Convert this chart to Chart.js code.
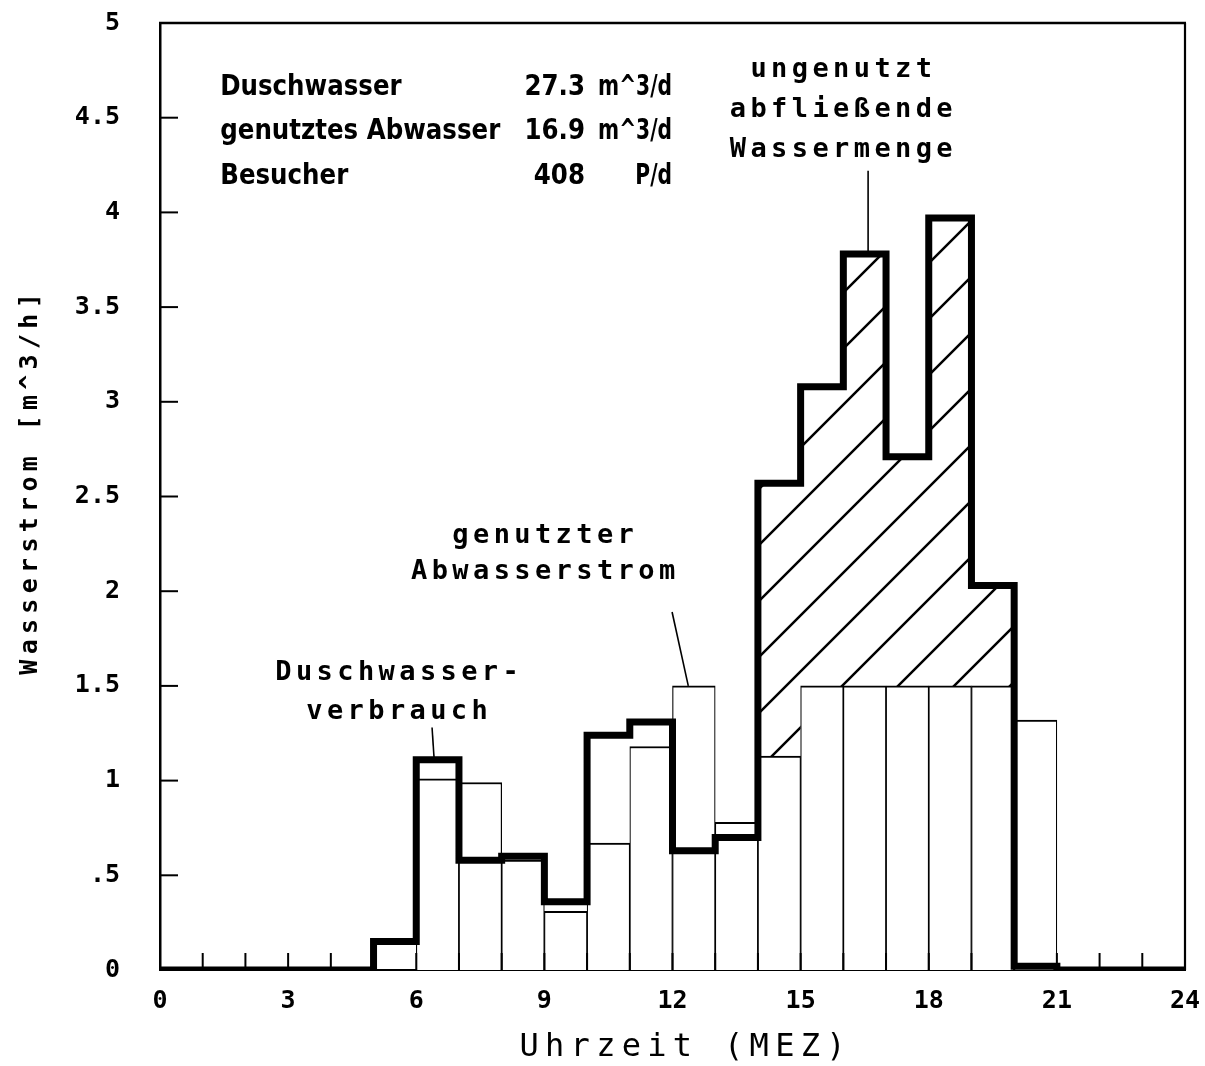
<!DOCTYPE html>
<html lang="de">
<head>
<meta charset="utf-8">
<title>Wasserstrom</title>
<script src="https://cdn.jsdelivr.net/npm/chart.js@4.4.1/dist/chart.umd.min.js"></script>
<style>
  html, body { margin: 0; padding: 0; background: #fff; }
  #wrap { width: 1205px; height: 1066px; position: relative; }
</style>
</head>
<body>
<div id="wrap"><canvas id="grafico"></canvas></div>
<script>
// Stundenwerte 0..23 Uhr in m^3/h
const stunden = [0, 1, 2, 3, 4, 5, 6, 7, 8, 9, 10, 11, 12, 13, 14, 15, 16, 17, 18, 19, 20, 21, 22, 23];
const duschwasser = [0, 0, 0, 0, 0, 0.15, 1.11, 0.58, 0.60, 0.36, 1.24, 1.31, 0.63, 0.70, 2.57, 3.08, 3.78, 2.71, 3.97, 2.03, 0.02, 0, 0, 0];
const abwasser = [0, 0, 0, 0, 0, 0, 1.01, 0.99, 0.58, 0.31, 0.67, 1.18, 1.50, 0.78, 1.13, 1.50, 1.50, 1.50, 1.50, 1.50, 1.32, 0, 0, 0];
// Stunden mit ungenutzt abfliessendem Wasser (schraffiert)
const ungenutzt = [14, 15, 16, 17, 18, 19];

const xBeschriftung = [0, 3, 6, 9, 12, 15, 18, 21, 24];

const kennLabels = ['Duschwasser', 'genutztes Abwasser', 'Besucher'];
const kennWerte = ['27.3', '16.9', '408'];
const kennEinheiten = ['m^3/d', 'm^3/d', 'P/d'];

// Stufenlinie: Wert gilt von h bis h+1, letzter Punkt schliesst ab
function stufen(werte, von, bis) {
  const pts = [];
  for (let h = von; h < bis; h++) pts.push({ x: h, y: werte[h] });
  pts.push({ x: bis, y: werte[bis - 1] });
  return pts;
}

const balken = stunden
  .filter(h => abwasser[h] > 0)
  .map(h => ({ x: h + 0.5, y: abwasser[h] }));

const canvas = document.getElementById('grafico');
const ctx0 = canvas.getContext('2d');

// Schraffur /
const schraffur = (() => {
  const s = 56;
  const c = document.createElement('canvas');
  c.width = s; c.height = s;
  const g = c.getContext('2d');
  g.strokeStyle = '#000';
  g.lineWidth = 2.5;
  g.beginPath();
  g.moveTo(0, s); g.lineTo(s, 0);
  g.moveTo(-s / 2, s / 2); g.lineTo(s / 2, -s / 2);
  g.moveTo(s / 2, s * 1.5); g.lineTo(s * 1.5, s / 2);
  g.stroke();
  const p = ctx0.createPattern(c, 'repeat');
  p.setTransform(new DOMMatrix().translate(16, 0));
  return p;
})();

const monoB = s => `bold ${s}px "DejaVu Sans Mono", monospace`;

function schreibe(ctx, text, x, y, font, abstand, align) {
  ctx.save();
  ctx.font = font;
  ctx.letterSpacing = abstand + 'px';
  ctx.textAlign = align || 'center';
  ctx.textBaseline = 'middle';
  ctx.fillStyle = '#000';
  ctx.fillText(text, x + (align === 'center' || !align ? abstand / 2 : 0), y);
  ctx.restore();
}

// Text horizontal gestaucht ausgeben
function gestaucht(ctx, text, x, y, sx, align) {
  ctx.save();
  ctx.translate(x, y);
  ctx.scale(sx, 1);
  ctx.textAlign = align;
  ctx.fillText(text, 0, 0);
  ctx.restore();
}

function strich(ctx, x1, y1, x2, y2, w) {
  ctx.save();
  ctx.strokeStyle = '#000';
  ctx.lineWidth = w;
  ctx.beginPath();
  ctx.moveTo(x1, y1);
  ctx.lineTo(x2, y2);
  ctx.stroke();
  ctx.restore();
}

const hinweise = [
  { zeilen: ['ungenutzt', 'abfließende', 'Wassermenge'], x: 15.95, y: [4.75, 4.54, 4.33],
    linie: [16.58, 4.22, 16.58, duschwasser[16]] },
  { zeilen: ['genutzter', 'Abwasserstrom'], x: 8.97, y: [2.29, 2.10],
    linie: [11.99, 1.89, 12.37, abwasser[12]] },
  { zeilen: ['Duschwasser-', 'verbrauch'], x: 5.55, y: [1.57, 1.36],
    linie: [6.37, 1.28, 6.42, duschwasser[6]] }
];

const rahmen = {
  id: 'rahmen',
  afterDatasetsDraw(chart) {
    const { ctx, chartArea: a, scales: { x: xs, y: ys } } = chart;

    // Rahmen oben und rechts
    strich(ctx, a.left - 1, a.top, a.right + 1, a.top, 2.5);
    strich(ctx, a.right, a.top, a.right, a.bottom, 2.2);

    // nach innen zeigende Teilstriche
    xs.ticks.forEach(t => {
      if (t.value <= 0 || t.value >= 24) return;
      const px = xs.getPixelForValue(t.value);
      strich(ctx, px, a.bottom, px, a.bottom - 17, 2);
    });
    ys.ticks.forEach(t => {
      if (t.value <= 0 || t.value >= 5) return;
      const py = ys.getPixelForValue(t.value);
      strich(ctx, a.left, py, a.left + 18, py, 2);
    });

    // Beschriftungen mit Hinweislinien
    hinweise.forEach(h => {
      h.zeilen.forEach((z, i) => {
        schreibe(ctx, z, xs.getPixelForValue(h.x), ys.getPixelForValue(h.y[i]), monoB(27), 4.4);
      });
      const l = h.linie;
      strich(ctx, xs.getPixelForValue(l[0]), ys.getPixelForValue(l[1]),
        xs.getPixelForValue(l[2]), ys.getPixelForValue(l[3]), 1.6);
    });

    // Kennwerte oben links
    ctx.save();
    ctx.font = 'bold 29px "DejaVu Sans Condensed", "Liberation Sans Narrow", sans-serif';
    ctx.fillStyle = '#000';
    ctx.textBaseline = 'middle';
    const zeilenY = [4.66, 4.425, 4.19];
    const links = xs.getPixelForValue(1.41);
    const wertR = xs.getPixelForValue(9.95);
    const einhR = xs.getPixelForValue(11.99);
    const fak = 280 / ctx.measureText(kennLabels[1]).width;
    const fakE = Math.min(fak, 74 / ctx.measureText('m^3/d').width);
    kennLabels.forEach((lab, i) => {
      const py = ys.getPixelForValue(zeilenY[i]);
      gestaucht(ctx, lab, links, py, fak, 'left');
      gestaucht(ctx, kennWerte[i], wertR, py, fak, 'right');
      gestaucht(ctx, kennEinheiten[i], einhR, py, fakE, 'right');
    });
    ctx.restore();

    // Achsentitel
    schreibe(ctx, 'Uhrzeit (MEZ)', (a.left + a.right) / 2 + 10, 1048, '32px "DejaVu Sans Mono", monospace', 6.3);
    ctx.save();
    ctx.translate(30, 484);
    ctx.rotate(-Math.PI / 2);
    schreibe(ctx, 'Wasserstrom [m^3/h]', 0, 0, monoB(25), 5.3);
    ctx.restore();
  }
};

new Chart(ctx0, {
  type: 'bar',
  data: {
    datasets: [
      {
        type: 'line',
        label: 'Duschwasserverbrauch',
        data: stufen(duschwasser, 0, 24),
        stepped: true,
        borderColor: '#000',
        borderWidth: 7,
        borderJoinStyle: 'miter',
        pointRadius: 0,
        fill: false,
        order: 0
      },
      {
        type: 'line',
        label: 'ungenutzt abfließende Wassermenge',
        data: stufen(duschwasser, ungenutzt[0], ungenutzt[ungenutzt.length - 1] + 1),
        stepped: true,
        borderColor: 'rgba(0,0,0,0)',
        borderWidth: 1,
        pointRadius: 0,
        backgroundColor: schraffur,
        fill: 2,
        order: 1
      },
      {
        type: 'line',
        label: 'untere Grenze',
        data: stufen(abwasser, ungenutzt[0], ungenutzt[ungenutzt.length - 1] + 1),
        stepped: true,
        borderColor: 'rgba(0,0,0,0)',
        borderWidth: 1,
        pointRadius: 0,
        fill: false,
        order: 2
      },
      {
        type: 'bar',
        label: 'genutzter Abwasserstrom',
        data: balken,
        backgroundColor: '#fff',
        borderColor: '#000',
        borderWidth: { top: 2, left: 1.2, right: 1.2, bottom: 0 },
        borderSkipped: false,
        barPercentage: 1,
        categoryPercentage: 1,
        order: 3
      }
    ]
  },
  options: {
    responsive: true,
    maintainAspectRatio: false,
    animation: false,
    layout: { padding: { top: 23, right: 20, left: 0, bottom: 0 } },
    plugins: {
      legend: { display: false },
      tooltip: { enabled: false }
    },
    scales: {
      x: {
        type: 'linear',
        min: 0,
        max: 24,
        offset: false,
        afterFit: s => { s.height = 96; s.paddingLeft = 0; s.paddingRight = 0; },
        grid: { display: false, drawTicks: false },
        border: { display: true, color: '#000', width: 2 },
        ticks: {
          stepSize: 1,
          autoSkip: false,
          maxRotation: 0,
          padding: 16,
          color: '#000',
          font: { family: '"DejaVu Sans Mono", monospace', size: 25, weight: 'bold' },
          callback: v => (xBeschriftung.includes(v) ? String(v) : '')
        }
      },
      y: {
        min: 0,
        max: 5,
        afterFit: s => { s.width = 160; s.paddingTop = 0; s.paddingBottom = 0; },
        grid: { display: false, drawTicks: false },
        border: { display: true, color: '#000', width: 2.5 },
        ticks: {
          stepSize: 0.5,
          padding: 40,
          color: '#000',
          font: { family: '"DejaVu Sans Mono", monospace', size: 25, weight: 'bold' },
          callback: v => String(v).replace(/^0\./, '.')
        }
      }
    }
  },
  plugins: [rahmen]
});
</script>
</body>
</html>
